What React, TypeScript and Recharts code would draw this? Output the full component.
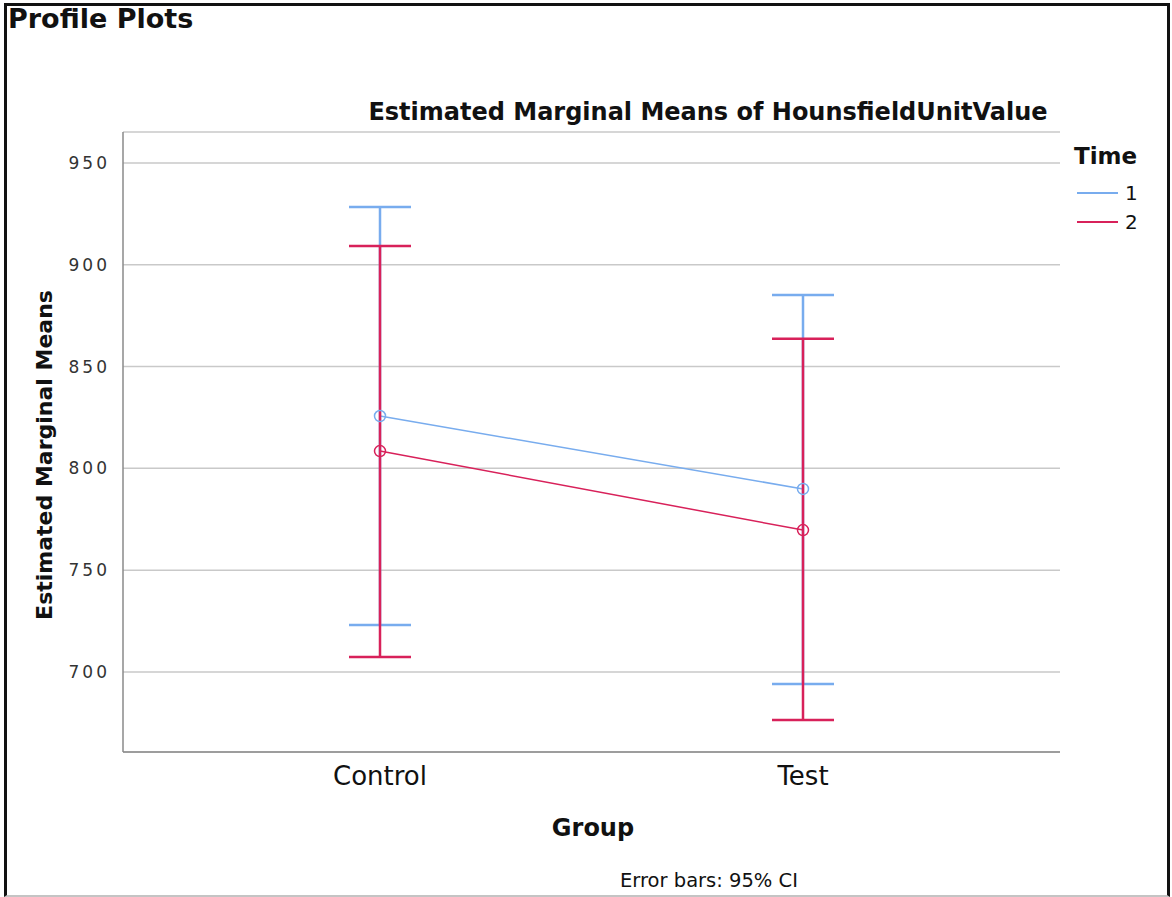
import React from "react";
import { ComposedChart, Line, XAxis, YAxis, CartesianGrid, ErrorBar, Legend } from "recharts";

const groups = ["Control", "Test"];
const time1Mean = [825.7, 789.9];
const time1Lower = [723.1, 694.1];
const time1Upper = [928.4, 885.2];
const time2Mean = [808.5, 769.7];
const time2Lower = [707.4, 676.4];
const time2Upper = [909.2, 863.6];
const yTicks = [700, 750, 800, 850, 900, 950];
const seriesNames = ["1", "2"];
const seriesColors = ["#78acee", "#d8215a"];

const data = groups.map((g, i) => ({
  group: g,
  t1: time1Mean[i],
  e1: [time1Mean[i] - time1Lower[i], time1Upper[i] - time1Mean[i]],
  t2: time2Mean[i],
  e2: [time2Mean[i] - time2Lower[i], time2Upper[i] - time2Mean[i]],
}));

const FONT = "'DejaVu Sans', sans-serif";

const LegendContent = () => (
  <div style={{ fontFamily: FONT, color: "#111" }}>
    <div style={{ fontWeight: "bold", fontSize: 23, lineHeight: "28px", marginBottom: 8 }}>Time</div>
    {seriesNames.map((n, i) => (
      <div key={n} style={{ display: "flex", alignItems: "center", height: 29 }}>
        <div style={{ width: 41, height: 2, background: seriesColors[i], marginLeft: 3, marginRight: 7 }} />
        <span style={{ fontSize: 20 }}>{n}</span>
      </div>
    ))}
  </div>
);

export default function App() {
  return (
    <div style={{ position: "absolute", left: 0, top: 0, width: 1172, height: 897, background: "#fff", overflow: "hidden" }}>
      <div
        style={{
          position: "absolute",
          left: 4,
          top: 3,
          width: 1166,
          height: 894,
          boxSizing: "border-box",
          borderLeft: "3px solid #111",
          borderRight: "3px solid #111",
          borderTop: "3px solid #111",
          borderBottom: "2px solid #c4c4c4",
        }}
      />
      <div style={{ position: "absolute", left: 0, top: 0 }}>
        <ComposedChart width={1172} height={897} data={data} margin={{ top: 132, right: 112, bottom: 105, left: 0 }}>
          <CartesianGrid vertical={false} stroke="#c9c9c9" strokeWidth={1.5} />
          <XAxis
            dataKey="group"
            scale="point"
            padding={{ left: 257, right: 257 }}
            axisLine={{ stroke: "#8a8a8a", strokeWidth: 1.5 }}
            tickLine={false}
            tickMargin={9}
            height={40}
            tick={{ fontSize: 26, fill: "#111", fontFamily: FONT }}
          />
          <YAxis
            type="number"
            domain={[660.7, 965.2]}
            ticks={yTicks}
            allowDataOverflow
            width={123}
            axisLine={{ stroke: "#8a8a8a", strokeWidth: 1.5 }}
            tickLine={false}
            tickMargin={7}
            tick={{ fontSize: 17, fill: "#333", fontFamily: FONT, letterSpacing: 3 }}
          />
          <Legend
            verticalAlign="middle"
            align="center"
            layout="vertical"
            content={<LegendContent />}
            wrapperStyle={{ position: "absolute", left: 1074, top: 142, width: 90, height: 100 }}
          />
          <Line
            dataKey="t1"
            name={seriesNames[0]}
            stroke={seriesColors[0]}
            strokeWidth={1.5}
            dot={{ r: 5.5, stroke: seriesColors[0], fill: "none", strokeWidth: 1.5 }}
            activeDot={false}
            isAnimationActive={false}
          >
            <ErrorBar dataKey="e1" width={31} stroke={seriesColors[0]} strokeWidth={2.5} direction="y" />
          </Line>
          <Line
            dataKey="t2"
            name={seriesNames[1]}
            stroke={seriesColors[1]}
            strokeWidth={1.5}
            dot={{ r: 5.5, stroke: seriesColors[1], fill: "none", strokeWidth: 1.5 }}
            activeDot={false}
            isAnimationActive={false}
          >
            <ErrorBar dataKey="e2" width={31} stroke={seriesColors[1]} strokeWidth={2.5} direction="y" />
          </Line>
        </ComposedChart>
      </div>
      <svg width={1172} height={897} style={{ position: "absolute", left: 0, top: 0, pointerEvents: "none" }}>
        <text x={8} y={28} fontFamily={FONT} fontWeight="bold" fontSize={27} fill="#111">Profile Plots</text>
        <text x={708} y={120} textAnchor="middle" fontFamily={FONT} fontWeight="bold" fontSize={24} fill="#111">
          Estimated Marginal Means of HounsfieldUnitValue
        </text>
        <text
          x={0}
          y={0}
          transform="translate(52,455) rotate(-90)"
          textAnchor="middle"
          fontFamily={FONT}
          fontWeight="bold"
          fontSize={22}
          fill="#111"
        >
          Estimated Marginal Means
        </text>
        <text x={593} y={836} textAnchor="middle" fontFamily={FONT} fontWeight="bold" fontSize={24} fill="#111">Group</text>
        <text x={709} y={887} textAnchor="middle" fontFamily={FONT} fontSize={19.5} fill="#111">Error bars: 95% CI</text>
      </svg>
    </div>
  );
}
